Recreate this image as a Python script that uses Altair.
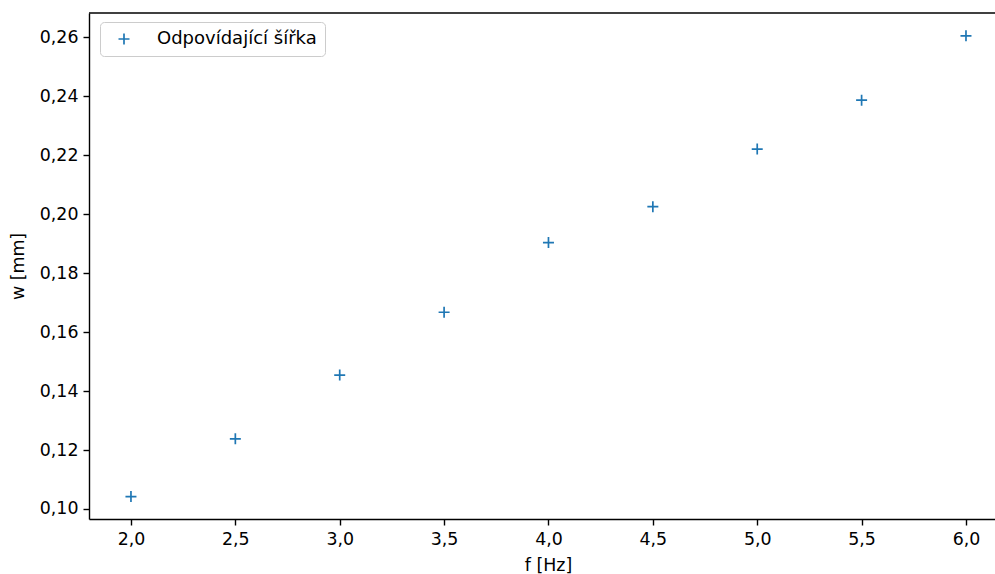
import altair as alt
import pandas as pd

f_hz = [2.0, 2.5, 3.0, 3.5, 4.0, 4.5, 5.0, 5.5, 6.0]
w_mm = [0.1042, 0.1238, 0.1454, 0.1667, 0.1903, 0.2025, 0.2220, 0.2386, 0.2604]
series = ["Odpovídající šířka"] * len(f_hz)
x_ticks = [2.0, 2.5, 3.0, 3.5, 4.0, 4.5, 5.0, 5.5, 6.0]
y_ticks = [0.10, 0.12, 0.14, 0.16, 0.18, 0.20, 0.22, 0.24, 0.26]

df = pd.DataFrame({"f": f_hz, "w": w_mm, "s": series})

W, H = 906, 506
FONT = "DejaVu Sans"
FS = 17.4
PLUS = "M-1,0L1,0M0,-1L0,1"
BLUE = "#1f77b4"

points = alt.Chart(df).mark_point(
    shape=PLUS, filled=False, size=121, strokeWidth=1.7, opacity=1
).encode(
    x=alt.X("f:Q",
            scale=alt.Scale(domain=[1.799, 6.139], nice=False, zero=False),
            axis=alt.Axis(values=x_ticks, title="f [Hz]",
                          labelExpr="replace(format(datum.value, '.1f'), '.', ',')",
                          titleX=459, titleY=46, titleBaseline="middle",
                          labelFlush=False, labelOverlap=False)),
    y=alt.Y("w:Q",
            scale=alt.Scale(domain=[0.09661, 0.26814], nice=False, zero=False),
            axis=alt.Axis(values=y_ticks, title="w [mm]",
                          labelExpr="replace(format(datum.value, '.2f'), '.', ',')",
                          titleX=-71, titleY=H / 2, titleBaseline="middle",
                          labelFlush=False, labelOverlap=False)),
    color=alt.Color("s:N", scale=alt.Scale(range=[BLUE]),
                    legend=alt.Legend(title=None, orient="none", legendX=11, legendY=9,
                                      padding=8, strokeColor="#cccccc", cornerRadius=4,
                                      fillColor="rgba(255,255,255,0.8)",
                                      symbolType=PLUS, symbolSize=121,
                                      symbolStrokeWidth=1.7, symbolOffset=7,
                                      labelOffset=24, labelFont=FONT,
                                      labelFontSize=18, labelColor="black")),
)

top = alt.Chart(pd.DataFrame({"a": [0]})).mark_rule(color="black", strokeWidth=1.4).encode(
    y=alt.value(0), x=alt.value(0), x2=alt.value(W)
)

chart = alt.layer(points, top).properties(
    width=W, height=H,
    padding={"left": 89, "top": 13, "right": 0, "bottom": 55},
    autosize=alt.AutoSizeParams(type="none"),
).configure_view(stroke=None).configure_axis(
    grid=False, domainColor="black", domainWidth=1.4, tickColor="black",
    tickWidth=1.4, tickSize=6, labelPadding=5, labelFont=FONT, labelFontSize=FS,
    labelColor="black", titleFont=FONT, titleFontSize=FS, titleFontWeight="normal",
    titleColor="black",
)

chart.save("out.html", embed_options={"renderer": "svg", "actions": False})
